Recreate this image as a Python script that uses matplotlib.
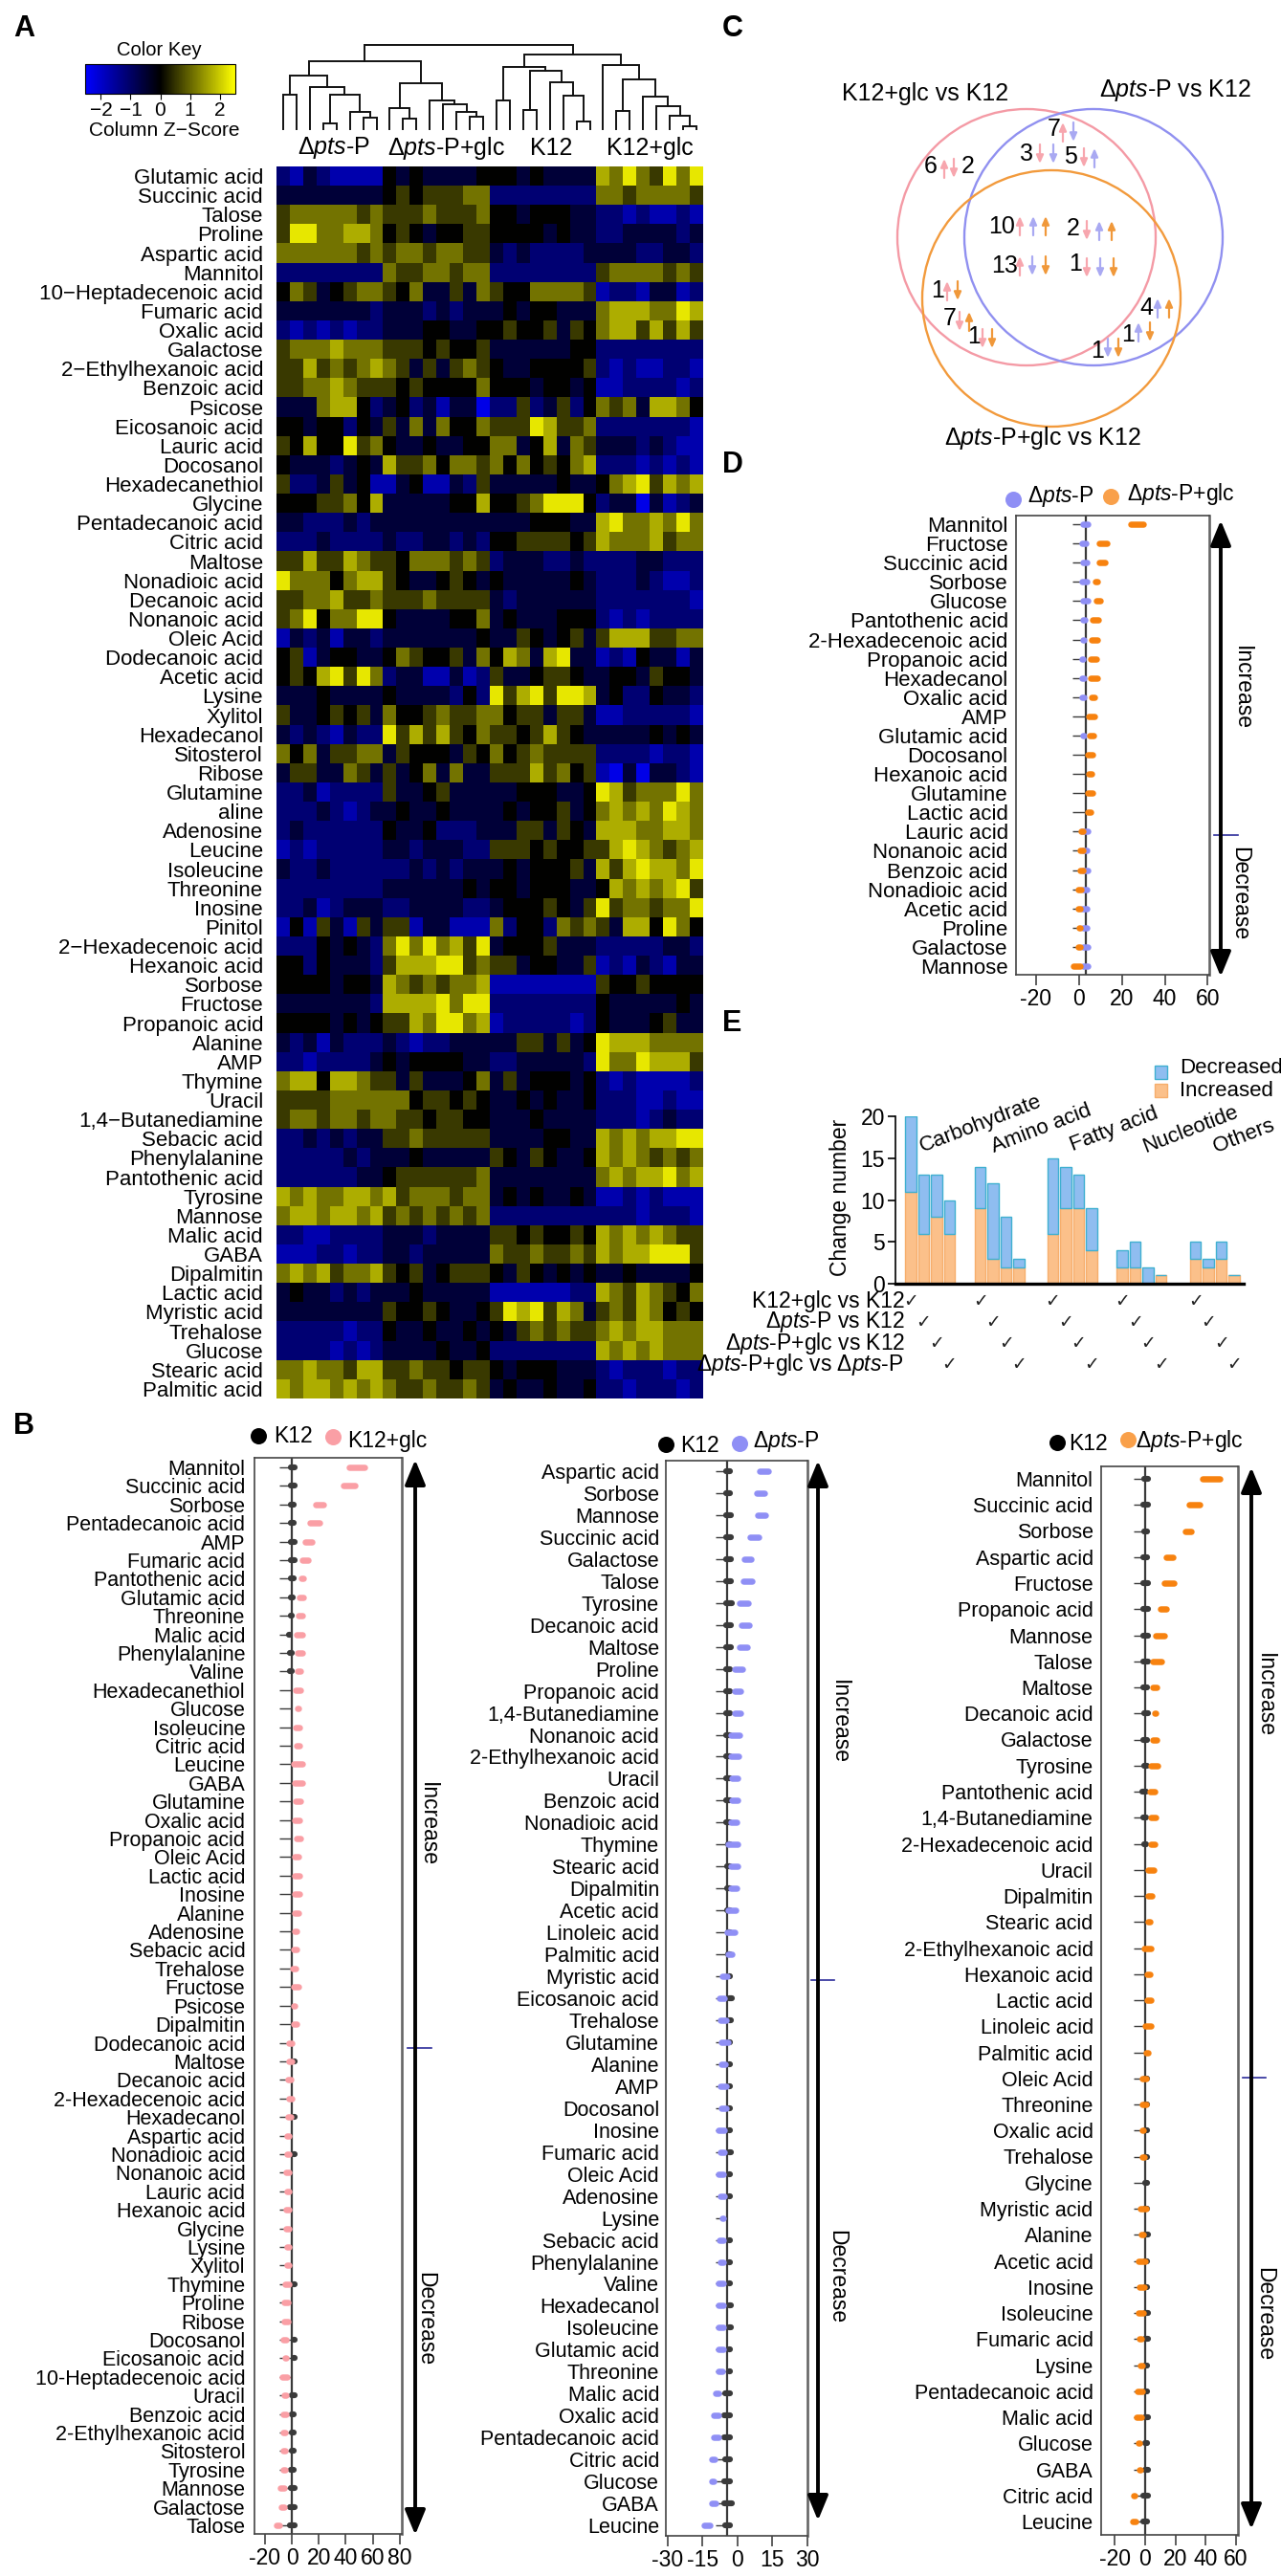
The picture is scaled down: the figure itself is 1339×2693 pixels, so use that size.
import numpy as np
import matplotlib
matplotlib.use('Agg')
import matplotlib.pyplot as plt
from matplotlib.colors import LinearSegmentedColormap
from matplotlib.patches import Ellipse

plt.rcParams['font.family'] = ['Liberation Sans', 'DejaVu Sans']
plt.rcParams['mathtext.fontset'] = 'custom'
plt.rcParams['mathtext.rm'] = 'Liberation Sans'
plt.rcParams['mathtext.it'] = 'Liberation Sans:italic'

W, H = 1339, 2693
DP = 'Δ$\\mathit{pts}$-P'
DPG = 'Δ$\\mathit{pts}$-P+glc'

# --- panel A data, one digit per cell: z = (digit - 4) * 0.57
heat_names = ['Glutamic acid', 'Succinic acid', 'Talose', 'Proline', 'Aspartic acid', 'Mannitol',
              '10−Heptadecenoic acid', 'Fumaric acid', 'Oxalic acid', 'Galactose', '2−Ethylhexanoic acid',
              'Benzoic acid', 'Psicose', 'Eicosanoic acid', 'Lauric acid', 'Docosanol', 'Hexadecanethiol',
              'Glycine', 'Pentadecanoic acid', 'Citric acid', 'Maltose', 'Nonadioic acid', 'Decanoic acid',
              'Nonanoic acid', 'Oleic Acid', 'Dodecanoic acid', 'Acetic acid', 'Lysine', 'Xylitol',
              'Hexadecanol', 'Sitosterol', 'Ribose', 'Glutamine', 'aline', 'Adenosine', 'Leucine',
              'Isoleucine', 'Threonine', 'Inosine', 'Pinitol', '2−Hexadecenoic acid', 'Hexanoic acid',
              'Sorbose', 'Fructose', 'Propanoic acid', 'Alanine', 'AMP', 'Thymine', 'Uracil',
              '1,4−Butanediamine', 'Sebacic acid', 'Phenylalanine', 'Pantothenic acid', 'Tyrosine',
              'Mannose', 'Malic acid', 'GABA', 'Dipalmitin', 'Lactic acid', 'Myristic acid', 'Trehalose',
              'Glucose', 'Stearic acid', 'Palmitic acid']
heat_rows = [
    '21321111 43433334 44343333 76865868',
    '33333333 45455566 22222222 66566665',
    '56666656 55565556 44344433 22121121',
    '58866776 45434455 44443433 22333323',
    '66666656 56656655 32322223 33322332',
    '22222222 65566566 22222222 56666565',
    '46534566 54633536 54466665 12213312',
    '33333332 33323233 34344333 67776687',
    '21212122 33344334 45445354 67757575',
    '56667666 55545445 33333344 22222222',
    '55756567 65353565 43344445 21211221',
    '55667655 54544446 44434434 11222212',
    '33367742 34231330 22523524 65637764',
    '44344243 53636446 55587556 22222221',
    '54744856 43343344 66347365 33323211',
    '43332343 75564665 64645467 22212121',
    '52235341 13411325 33333433 46785767',
    '44455647 33333447 44568884 23303123',
    '33222323 33333333 33344433 78667686',
    '22232222 32233232 44555545 76667566',
    '55755765 54666565 23332232 22233222',
    '86664677 54334543 43333343 22232112',
    '55667556 55565555 32333333 22222221',
    '56846688 43333446 34333444 21212222',
    '13231332 33333334 33543453 57775566',
    '45134433 46544536 47637833 12143313',
    '45478586 23311312 53345543 34435443',
    '33343333 43333242 85785887 34224332',
    '53345453 64456556 64553553 11222221',
    '32321322 85757546 55457543 33334343',
    '64635566 35444354 64565555 22221221',
    '35533653 53463633 55575645 10303321',
    '22312222 53345333 33444334 87566686',
    '22232123 34334333 34344534 67676876',
    '23222222 43342223 33553543 77766776',
    '12122222 33233322 55545445 57876567',
    '32232222 22323233 34344453 75787768',
    '22222222 33333343 44344433 47676785',
    '22312333 22333322 34445435 85665668',
    '14153153 55133111 62442656 53774864',
    '22243432 68686758 34445333 22222332',
    '44243332 57778856 55344335 12132133',
    '44443443 76565667 11111111 54454444',
    '33333332 77778688 22222222 43333343',
    '44443434 55768867 12222212 43334533',
    '32313222 32122333 33553534 87776666',
    '22122223 43444433 22333332 86687775',
    '67747765 53533346 35344434 21211112',
    '55556666 66455454 33434334 22211211',
    '56656656 65545544 33343333 22212322',
    '22323233 55655555 33334433 76767788',
    '22222323 33433333 54354334 76765656',
    '22222233 45555556 33333333 67677867',
    '76766776 75666566 34343343 11212111',
    '67767767 56565656 22222222 22212221',
    '22112222 33323333 55454454 76767655',
    '11122122 33233333 65565565 76778885',
    '67675667 54534555 43543434 33433334',
    '34332323 33433333 11111122 76576546',
    '33333333 54454334 58785763 56576454',
    '22222122 43343343 43565655 67677666',
    '22221212 33334334 22222222 76767666',
    '66766577 55655455 43444333 21222122',
    '76776767 65565565 34334334 22122212',
]
heat_groups = [DP, DPG, 'K12', 'K12+glc']
group_x = [349, 466, 576, 679]
# dendrogram: (height, left, right), None is a leaf
tree = (88,
        (71,
         (56, (36, None, None),
          (44, None, (36, (6, None, None), (18, None, (12, None, None))))),
         (48, (22, None, (11, None, None)),
          (30, None, (26, None, (18, None, (13, None, None)))))),
        (78,
         (65, (30, None, None),
          (61, (20, None, None), (49, None, (35, None, (8, None, None))))),
         (67, None,
          (52, (19, None, None),
           (34, None, (24, None, (14, None, (3, None, None))))))))

# --- panel B data
b1_names = ['Mannitol', 'Succinic acid', 'Sorbose', 'Pentadecanoic acid', 'AMP', 'Fumaric acid',
            'Pantothenic acid', 'Glutamic acid', 'Threonine', 'Malic acid', 'Phenylalanine', 'Valine',
            'Hexadecanethiol', 'Glucose', 'Isoleucine', 'Citric acid', 'Leucine', 'GABA', 'Glutamine',
            'Oxalic acid', 'Propanoic acid', 'Oleic Acid', 'Lactic acid', 'Inosine', 'Alanine', 'Adenosine',
            'Sebacic acid', 'Trehalose', 'Fructose', 'Psicose', 'Dipalmitin', 'Dodecanoic acid', 'Maltose',
            'Decanoic acid', '2-Hexadecenoic acid', 'Hexadecanol', 'Aspartic acid', 'Nonadioic acid',
            'Nonanoic acid', 'Lauric acid', 'Hexanoic acid', 'Glycine', 'Lysine', 'Xylitol', 'Thymine',
            'Proline', 'Ribose', 'Docosanol', 'Eicosanoic acid', '10-Heptadecenoic acid', 'Uracil',
            'Benzoic acid', '2-Ethylhexanoic acid', 'Sitosterol', 'Tyrosine', 'Mannose', 'Galactose', 'Talose']
b1_lo = [40, 36, 15.6, 11, 7.3, 5.7, 5, 3.3, 2.6, 1.4, 2, 2, 0.5, 1.6, 0.5, 1.5, -1, 0, 0.5, 0, 1, 0, 0, 0, 0, 0,
         -1, -1.4, -0.7, -1, -1, -4.3, -4.3, -5, -4.5, -5, -6, -5.7, -6.6, -6, -6.6, -6.6, -5.7, -6, -7, -8, -8,
         -8.5, -7, -9.5, -8, -9, -9, -9, -9, -11, -10, -13.7]
b1_hi = [56, 49, 26, 22.7, 17, 14, 11, 11, 10, 10, 10, 9, 9, 7.5, 8, 8, 10.4, 10, 8.5, 8, 8.5, 7.3, 8, 8, 7, 6,
         6, 5.4, 7, 4.7, 5.7, 2, 2, 1.4, 2.6, 1.4, 0.5, 0, 0.5, 0, 0, 0, 0, 0, 0, -0.5, -0.5, -2, -2, -1.4, -2,
         -2, -2.6, -2.6, -2.6, -3.3, -3.3, -6.6]
b1_k_lo = [-2.6, -3, -2.6, -2.6, -3, -3, -2.6, -3, -3, -4, -3.5, -3.5, -3, -3.5, -3, -3, -3, -3, -3, -3, -3, -3,
           -3, -3, -3, -3, -3, -3, -3, -2.6, -2.6, -1, -1, -1, -1, -1, -1, -1, -1, -1, -1, -1, -1, -1, -1, -1, -1,
           -1, -1, -1, -2, -2.5, -2.5, -2.5, -3, -3, -3.5, -3.8]
b1_k_hi = [4, 4, 3.5, 3.5, 4, 4, 3.5, 3, 2.5, 1, 2, 2, 1, 1, 1, 1, 1, 1, 1, 1, 1, 1, 1, 1, 1, 1, 1, 1, 1, 1, 0.5,
           3, 4, 3.5, 3, 4, 3.3, 4, 3.6, 3, 3.6, 3.6, 3, 3, 4.3, 3.3, 3.6, 4, 4, 3.5, 4.5, 3.6, 3.6, 3.6, 3.6, 4,
           4, 4.3]
b1_extra = []

b2_names = ['Aspartic acid', 'Sorbose', 'Mannose', 'Succinic acid', 'Galactose', 'Talose', 'Tyrosine',
            'Decanoic acid', 'Maltose', 'Proline', 'Propanoic acid', '1,4-Butanediamine', 'Nonanoic acid',
            '2-Ethylhexanoic acid', 'Uracil', 'Benzoic acid', 'Nonadioic acid', 'Thymine', 'Stearic acid',
            'Dipalmitin', 'Acetic acid', 'Linoleic acid', 'Palmitic acid', 'Myristic acid', 'Eicosanoic acid',
            'Trehalose', 'Glutamine', 'Alanine', 'AMP', 'Docosanol', 'Inosine', 'Fumaric acid', 'Oleic Acid',
            'Adenosine', 'Lysine', 'Sebacic acid', 'Phenylalanine', 'Valine', 'Hexadecanol', 'Isoleucine',
            'Glutamic acid', 'Threonine', 'Malic acid', 'Oxalic acid', 'Pentadecanoic acid', 'Citric acid',
            'Glucose', 'GABA', 'Leucine']
b2_lo = [8.3, 6.8, 7.1, 4, 1.6, 1, -0.4, 0.4, -0.4, -2.7, -2.7, -2.7, -4, -4.3, -3.7, -3.7, -4, -5.4, -4.3, -4.3,
         -5.4, -5.8, -5.4, -8, -9, -8.7, -8.4, -8.4, -8.7, -8.4, -9.4, -8.7, -9.4, -8.7, -7.8, -9.2, -8.7, -9.4,
         -9.4, -9.4, -9.4, -9.4, -10.7, -11.4, -11.6, -12.3, -12.4, -12.4, -15.8]
b2_hi = [14.5, 12.7, 13.4, 10.4, 7.2, 7.4, 5.8, 6.4, 5.4, 3.3, 2.5, 2.5, 2, 1.9, 1.5, 1.2, 1.1, 1.2, 1.3, 1, 0.7,
         0, -1.3, -3.3, -4.3, -3.7, -2.9, -4, -3.7, -3.7, -4.3, -4.3, -4.7, -4.3, -5, -4.7, -4.7, -4.7, -4.7, -5,
         -5, -5.4, -6.7, -7, -7, -8.7, -9, -8, -10.7]
b2_k_lo = [-6.3, -6, -6.3, -6.3, -6.3, -6.3, -6.3, -6.3, -6.3, -6, -6, -6, -6, -6, -6, -6, -6, -5.4, -5.8, -5.8,
           -5.8, -5.4, -5.4, -5, -5, -5, -5, -5, -5, -5, -5, -5, -5, -5, -5, -5, -5, -5, -5, -5, -5, -5, -6.7, -7,
           -7, -6.7, -7, -7, -6.7]
b2_k_hi = [-2.2, -2, -1.7, -1.6, -1.6, -1.5, -1.3, -1.7, -1.4, -2.2, -2.2, -2.2, -2.2, -2.2, -2.2, -2.2, -2.2,
           -2.2, -2.2, -2.2, -2.2, -2.2, -2.2, -2, -1.3, -1.7, -2, -1.9, -2, -1.8, -1.9, -1.6, -1.9, -2.2, -2.4, -1.9,
           -1.9, -2, -1.6, -1.6, -1.8, -2.2, -1.8, -2, -2, -1.8, -1.9, -1.3, -1.9]
b2_extra = [(47, -15.7, -13.4)]

b3_names = ['Mannitol', 'Succinic acid', 'Sorbose', 'Aspartic acid', 'Fructose', 'Propanoic acid', 'Mannose',
            'Talose', 'Maltose', 'Decanoic acid', 'Galactose', 'Tyrosine', 'Pantothenic acid',
            '1,4-Butanediamine', '2-Hexadecenoic acid', 'Uracil', 'Dipalmitin', 'Stearic acid',
            '2-Ethylhexanoic acid', 'Hexanoic acid', 'Lactic acid', 'Linoleic acid', 'Palmitic acid',
            'Oleic Acid', 'Threonine', 'Oxalic acid', 'Trehalose', 'Glycine', 'Myristic acid', 'Alanine',
            'Acetic acid', 'Inosine', 'Isoleucine', 'Fumaric acid', 'Lysine', 'Pentadecanoic acid', 'Malic acid',
            'Glucose', 'GABA', 'Citric acid', 'Leucine']
b3_lo = [35.7, 27.3, 24.6, 12.2, 10.7, 8, 4.8, 3.2, 3.2, 4.6, 3.2, 1.5, 1, 1.5, 1.5, 0, 0, -0.4, -2.5, -0.8, -0.8,
         -1.7, -1.3, -3.6, -3.6, -4.2, -3.6, -4.2, -5.3, -4.8, -6.3, -5.9, -6.3, -5.9, -5.3, -6.9, -7.4, -6.3,
         -5.9, -9.5, -10.5]
b3_hi = [51.5, 38.4, 32.6, 20.6, 21, 15.8, 14.7, 12.6, 9.7, 9.2, 9.7, 10, 8.4, 9, 8.2, 7.6, 6.3, 5, 5.7, 5.3, 5.7,
         5.7, 4.2, 2.5, 2.7, 1, 1.5, 0.4, 2.7, 0.6, 2, 1.5, 1, -0.4, 0, 0, -0.4, -1.7, -1, -4.6, -4.2]
b3_k_lo = [-2.5, -3, -2.5, -3, -3, -3, -3.2, -3, -3.2, -2.5, -3, -2.8, -3.5, -3, -2.8, -2, -2, -2, -2, -2, -2, -2,
           -2, -2, -2, -2, -2, -2, -2, -2, -2, -2, -2, -2, -2, -2, -2, -2, -2, -3, -3.2]
b3_k_hi = [3.6, 3.8, 3.4, 3.4, 3.6, 3.8, 4.2, 3.6, 3.4, 3.6, 3.4, 3, 2.4, 2.4, 2.4, 2, 2, 1, 1, 1, 1, 1, 1, 3, 3,
           3, 3.4, 3.4, 3.4, 3.6, 3.4, 3.4, 4, 4.2, 3, 3.4, 3.8, 3.2, 3.8, 3.6, 3.4]
b3_extra = [(2, 33.6, 37), (38, -10.5, -6.7)]

# --- panel C data
venn_numbers = [('7', 1102, 135), ('3', 1073, 161), ('5', 1119, 164), ('6', 973, 174), ('2', 1012, 174),
                ('10', 1047, 237), ('2', 1122, 239), ('13', 1050, 278), ('1', 1124, 276), ('1', 980, 304),
                ('7', 993, 333), ('1', 1018, 352), ('4', 1198, 322), ('1', 1179, 350), ('1', 1147, 367)]
venn_arrows = [(1111, 138, 1, 'p'), (1122, 138, -1, 'b'), (1087, 161, -1, 'p'), (1101, 161, -1, 'b'),
               (1133, 165, -1, 'p'), (1144, 165, 1, 'b'), (987, 176, 1, 'p'), (997, 176, -1, 'p'),
               (1066, 236, 1, 'p'), (1080, 236, 1, 'b'), (1093, 236, 1, 'o'),
               (1136, 241, -1, 'p'), (1149, 241, 1, 'b'), (1162, 241, 1, 'o'),
               (1066, 278, 1, 'p'), (1079, 278, -1, 'b'), (1093, 278, -1, 'o'),
               (1136, 280, -1, 'p'), (1150, 280, -1, 'b'), (1164, 280, -1, 'o'),
               (990, 304, 1, 'p'), (1001, 304, -1, 'o'), (1003, 336, -1, 'p'), (1013, 336, 1, 'o'),
               (1027, 354, -1, 'p'), (1037, 354, -1, 'o'), (1210, 322, 1, 'b'), (1222, 322, 1, 'o'),
               (1190, 347, 1, 'b'), (1202, 347, -1, 'o'), (1158, 364, -1, 'b'), (1169, 364, -1, 'o')]

# --- panel D data
d_names = ['Mannitol', 'Fructose', 'Succinic acid', 'Sorbose', 'Glucose', 'Pantothenic acid', '2-Hexadecenoic acid',
           'Propanoic acid', 'Hexadecanol', 'Oxalic acid', 'AMP', 'Glutamic acid', 'Docosanol', 'Hexanoic acid',
           'Glutamine', 'Lactic acid', 'Lauric acid', 'Nonanoic acid', 'Benzoic acid', 'Nonadioic acid',
           'Acetic acid', 'Proline', 'Galactose', 'Mannose']
d_blue_lo = [0.4, 0, 0.4, 0, 0.4, 0.4, 0.4, 0, 0, 0, 0.4, 0.4, 0.7, 0, 0.7, 0.4, 0, 0.4, 0.4, 0.4, 0, 0.4, 0.4, 0.4]
d_blue_hi = [5.5, 4.7, 5, 5, 5.5, 4.4, 4, 3.3, 3.6, 3.6, 3, 3.6, 2.5, 2.5, 2.5, 2.5, 5.5, 5, 5.5, 5, 5.3, 5, 5.5, 5.5]
d_or_lo = [22.5, 8, 8, 6.4, 6.7, 4.9, 4.4, 4, 4, 4.4, 3.1, 3.6, 2.5, 3.1, 2.5, 2.5, -0.4, -1, -1, -1.8, -1.8, -1.5,
           -2, -3.8]
d_or_hi = [31.3, 14.4, 13.6, 10.2, 11.3, 10.5, 9.8, 9.5, 9.8, 8.9, 8.9, 8.4, 7.6, 7.3, 8, 6.9, 3.3, 3.3, 3.3, 2.5,
           2.2, 2.2, 2.2, 2.2]
d_extra = [(3, 10.9, 13)]

# --- panel E data
e_groups = ['Carbohydrate', 'Amino acid', 'Fatty acid', 'Nucleotide', 'Others']
e_increased = [11, 6, 8, 6, 9, 3, 2, 2, 6, 9, 9, 4, 2, 2, 0, 1, 3, 2, 3, 1]
e_decreased = [9, 7, 5, 4, 5, 9, 6, 1, 9, 5, 4, 5, 2, 3, 2, 0, 2, 1, 2, 0]
e_compare = ['K12+glc vs K12', DP + ' vs K12', DPG + ' vs K12', DPG + ' vs ' + DP]

PINK, BLUE, ORANGE, DARK = '#FA9FA5', '#8F8FF5', '#F7820F', '#3a3a3a'

fig = plt.figure(figsize=(W / 100, H / 100), dpi=100, facecolor='white')


def px_axes(l, t, r, b):
    return fig.add_axes([l / W, 1 - b / H, (r - l) / W, (b - t) / H])


ov = fig.add_axes([0, 0, 1, 1], zorder=10)
ov.set_xlim(0, W)
ov.set_ylim(H, 0)
ov.axis('off')
ov.patch.set_alpha(0)


def txt(x, y, s, size=15.5, **kw):
    kw.setdefault('ha', 'center')
    kw.setdefault('va', 'center')
    ov.text(x, y, s, fontsize=size, **kw)


for s, x, y in [('A', 25, 30), ('B', 25, 1491), ('C', 766, 30), ('D', 766, 486), ('E', 765, 1070)]:
    txt(x, y, s, size=22, fontweight='bold')

# panel A
cmap = LinearSegmentedColormap.from_list('key', ['#0000ff', '#000000', '#ffff00'])
heat = np.array([[(int(c) - 4) * 0.57 for c in r.replace(' ', '')] for r in heat_rows])
ax = px_axes(289, 174, 735, 1462)
im = ax.imshow(heat, aspect='auto', cmap=cmap, vmin=-2.53, vmax=2.53, interpolation='nearest')
ax.set_xticks([])
ax.set_yticks(range(len(heat_names)))
ax.set_yticklabels(heat_names, fontsize=16)
ax.tick_params(axis='y', length=0, pad=10)
for sp in ax.spines.values():
    sp.set_visible(False)

cax = px_axes(89, 67, 246, 98)
cb = fig.colorbar(im, cax=cax, orientation='horizontal')
cb.set_ticks([-2, -1, 0, 1, 2])
cb.set_ticklabels(['−2', '−1', '0', '1', '2'])
cb.ax.tick_params(labelsize=15, length=4, pad=2)
cb.outline.set_linewidth(0.8)
txt(166, 52, 'Color Key', size=14.5)
txt(172, 137, 'Column Z−Score', size=15)
for name, x in zip(heat_groups, group_x):
    txt(x, 155, name, size=18)

leaf_n = [0]


def draw_tree(node):
    if node is None:
        x = 289 + (leaf_n[0] + 0.5) * 446 / 32
        leaf_n[0] += 1
        return x, 0
    h, a, b = node
    xa, ha = draw_tree(a)
    xb, hb = draw_tree(b)
    ov.plot([xa, xa, xb, xb], [135 - ha, 135 - h, 135 - h, 135 - hb], color='#111111', lw=1.4,
            solid_joinstyle='miter')
    return (xa + xb) / 2, h


draw_tree(tree)


# panels B and D
def dot_panel(box, xlim, first, last, names, ticks, mid, pad, size=15.5):
    l, t, r, b = box
    ax = px_axes(l, t, r, b)
    step = (last - first) / (len(names) - 1)
    ax.set_xlim(*xlim)
    ax.set_ylim((b - first) / step, (t - first) / step)
    ax.set_yticks(range(len(names)))
    ax.set_yticklabels(names, fontsize=size)
    ax.set_xticks(ticks)
    ax.set_xticklabels([str(v) for v in ticks], fontsize=16.5)
    ax.tick_params(axis='y', length=0, pad=pad)
    ax.tick_params(axis='x', length=8, width=1.1, pad=2, color='#333333')
    for sp in ax.spines.values():
        sp.set_color('#444444')
        sp.set_linewidth(1.2)
    ax.spines['right'].set_linewidth(1.9)
    ax.spines['right'].set_color('#666666')
    ax.axvline(mid, color=DARK, lw=1.6, zorder=1)
    ax.patch.set_alpha(0)
    return ax


def blobs(ax, rows, lo, hi, color, z, lw_px=6.2):
    lo, hi = np.array(lo, float), np.array(hi, float)
    x0, x1 = ax.get_xlim()
    pad = lw_px / 2 / (ax.get_position().width * W / (x1 - x0))
    c = (lo + hi) / 2
    ax.hlines(rows, np.minimum(lo + pad, c), np.maximum(hi - pad, c), colors=color,
              linewidths=lw_px * 0.72, capstyle='round', zorder=z)


def k12_panel(box, xlim, first, last, names, ticks, mid, tail, lo, hi, k_lo, k_hi, color, extra, pad):
    ax = dot_panel(box, xlim, first, last, names, ticks, mid, pad)
    rows = np.arange(len(names))
    ax.hlines(rows, tail, mid, colors=DARK, linewidths=1, zorder=1)
    blobs(ax, rows, k_lo, k_hi, DARK, 2)
    blobs(ax, rows, lo, hi, color, 3, 6.5)
    if extra:
        blobs(ax, [e[0] for e in extra], [e[1] for e in extra], [e[2] for e in extra], color, 3, 6.5)
    return ax


k12_panel((266, 1524, 420, 2649), (-27.7, 81.6), 1534, 2640, b1_names, [-20, 0, 20, 40, 60, 80], 0, -9,
          b1_lo, b1_hi, b1_k_lo, b1_k_hi, PINK, b1_extra, 7)
k12_panel((696, 1527, 844, 2651), (-30.8, 28.7), 1538, 2640, b2_names, [-30, -15, 0, 15, 30], -4.4, -9.4,
          b2_lo, b2_hi, b2_k_lo, b2_k_hi, BLUE, b2_extra, 5)
k12_panel((1151, 1533, 1294, 2650), (-29, 61.3), 1546, 2636, b3_names, [-20, 0, 20, 40, 60], 0, -7.8,
          b3_lo, b3_hi, b3_k_lo, b3_k_hi, ORANGE, b3_extra, 6)

axd = dot_panel((1062, 539, 1264, 1019), (-29.3, 60.7), 548, 1010, d_names, [-20, 0, 20, 40, 60], 3.1, 6, size=16)
rows_d = np.arange(len(d_names))
axd.hlines(rows_d, -2.9, 3.1, colors=DARK, linewidths=1, zorder=1)
blobs(axd, rows_d, d_blue_lo, d_blue_hi, BLUE, 2, 6.5)
blobs(axd, rows_d, d_or_lo, d_or_hi, ORANGE, 3, 6.5)
blobs(axd, [e[0] for e in d_extra], [e[1] for e in d_extra], [e[2] for e in d_extra], ORANGE, 3, 6.5)


def updown(x, top, bottom, tick_y, x0, x1, inc_x, inc_y, dec_x, dec_y):
    ov.annotate('', xy=(x, top), xytext=(x, bottom),
                arrowprops=dict(arrowstyle='<|-|>,head_length=15.8,head_width=6.5', lw=2.8, color='black',
                                shrinkA=0, shrinkB=0, mutation_scale=1))
    ov.plot([x0, x1], [tick_y, tick_y], color='#2b2b9a', lw=1.2)
    txt(inc_x, inc_y, 'Increase', size=16.5, rotation=-90)
    txt(dec_x, dec_y, 'Decrease', size=16.5, rotation=-90)


updown(434, 1526, 2650, 2141, 426, 451, 447, 1907, 445, 2424)
updown(855, 1527, 2635, 2070, 848, 872, 877, 1800, 875, 2380)
updown(1308, 1534, 2644, 2172, 1299, 1323, 1322, 1772, 1322, 2419)
updown(1276, 544, 1021, 873, 1269, 1294, 1298, 719, 1296, 934)

# legends of B and D
for x, y, c in [(270, 1501, 'black'), (348, 1502, PINK), (696, 1510, 'black'), (773, 1509, BLUE),
                (1105, 1508, 'black'), (1179, 1505, '#F9A04A'), (1059, 522, BLUE), (1161, 519, '#F9A04A')]:
    ov.scatter([x], [y], s=150, color=c, linewidths=0)
for x, y, s in [(286, 1502, 'K12'), (363, 1506, 'K12+glc'), (711, 1511, 'K12'), (787, 1507, DP),
                (1117, 1510, 'K12'), (1187, 1506, DPG), (1074, 519, DP), (1178, 516, DPG)]:
    txt(x, y, s, size=16.5, ha='left')

# panel C
venn_colors = {'p': '#F7A6AE', 'b': '#A9A9F2', 'o': '#F0983A'}
for cx, cy, c in [(1073, 248, '#F49AA5'), (1143, 248, '#9090F0'), (1099, 312, '#F29A3C')]:
    ov.add_patch(Ellipse((cx, cy), 270, 268, fill=False, edgecolor=c, lw=1.7))
for s, x, y in venn_numbers:
    txt(x, y, s, size=18)
for x, y, d, c in venn_arrows:
    ov.annotate('', xy=(x, y - d * 10), xytext=(x, y + d * 10),
                arrowprops=dict(arrowstyle='-|>,head_length=5,head_width=2.2', lw=1.6, color=venn_colors[c],
                                shrinkA=0, shrinkB=0, mutation_scale=1))
txt(967, 98, 'K12+glc vs K12', size=18)
txt(1229, 94, DP + ' vs K12', size=18)
txt(1090, 458, DPG + ' vs K12', size=18)

# panel E
pos = np.concatenate([s + np.arange(4) for s in [0, 5.39, 11.0, 16.4, 22.05]])
axe = px_axes(936, 1167, 1300, 1342)
axe.set_xlim(-1.185, 25.8)
axe.set_ylim(0, 20)
axe.bar(pos, e_increased, width=0.85, color='#FBC08A', edgecolor='#F6AE6C', lw=1)
axe.bar(pos, e_decreased, width=0.85, bottom=e_increased, color='#8FBDF0', edgecolor='#3FB0D0', lw=1)
axe.set_xticks([])
axe.set_yticks([0, 5, 10, 15, 20])
axe.tick_params(axis='y', labelsize=16.5, length=6, width=1.2, pad=2)
for s in ['top', 'right']:
    axe.spines[s].set_visible(False)
axe.spines['left'].set_linewidth(1.2)
axe.spines['bottom'].set_linewidth(2.4)
axe.patch.set_alpha(0)
txt(878, 1252, 'Change number', size=16.5, rotation=90)
for s, x, y in zip(e_groups, [1025, 1088, 1165, 1244, 1300], [1175, 1180, 1181, 1181, 1188]):
    txt(x, y, s, size=16, rotation=21)
for y, x, s in zip([1361, 1382, 1405, 1427], [946, 946, 946, 944], e_compare):
    txt(x, y, s, size=16.5, ha='right')
    row = e_compare.index(s)
    for p in pos[row::4]:
        ov.text(952 + p * 13.5, y, '✓', fontsize=13.5, ha='center', va='center', family=['DejaVu Sans'],
                color='#222222')
ov.add_patch(plt.Rectangle((1207, 1114), 13, 14, facecolor='#8FBDF0', edgecolor='#3FB0D0', lw=1))
ov.add_patch(plt.Rectangle((1207, 1133), 13, 14, facecolor='#FBC08A', edgecolor='#F6AE6C', lw=1))
txt(1233, 1117, 'Decreased', size=16, ha='left')
txt(1233, 1141, 'Increased', size=16, ha='left')

fig.savefig('out.png', dpi=100)
